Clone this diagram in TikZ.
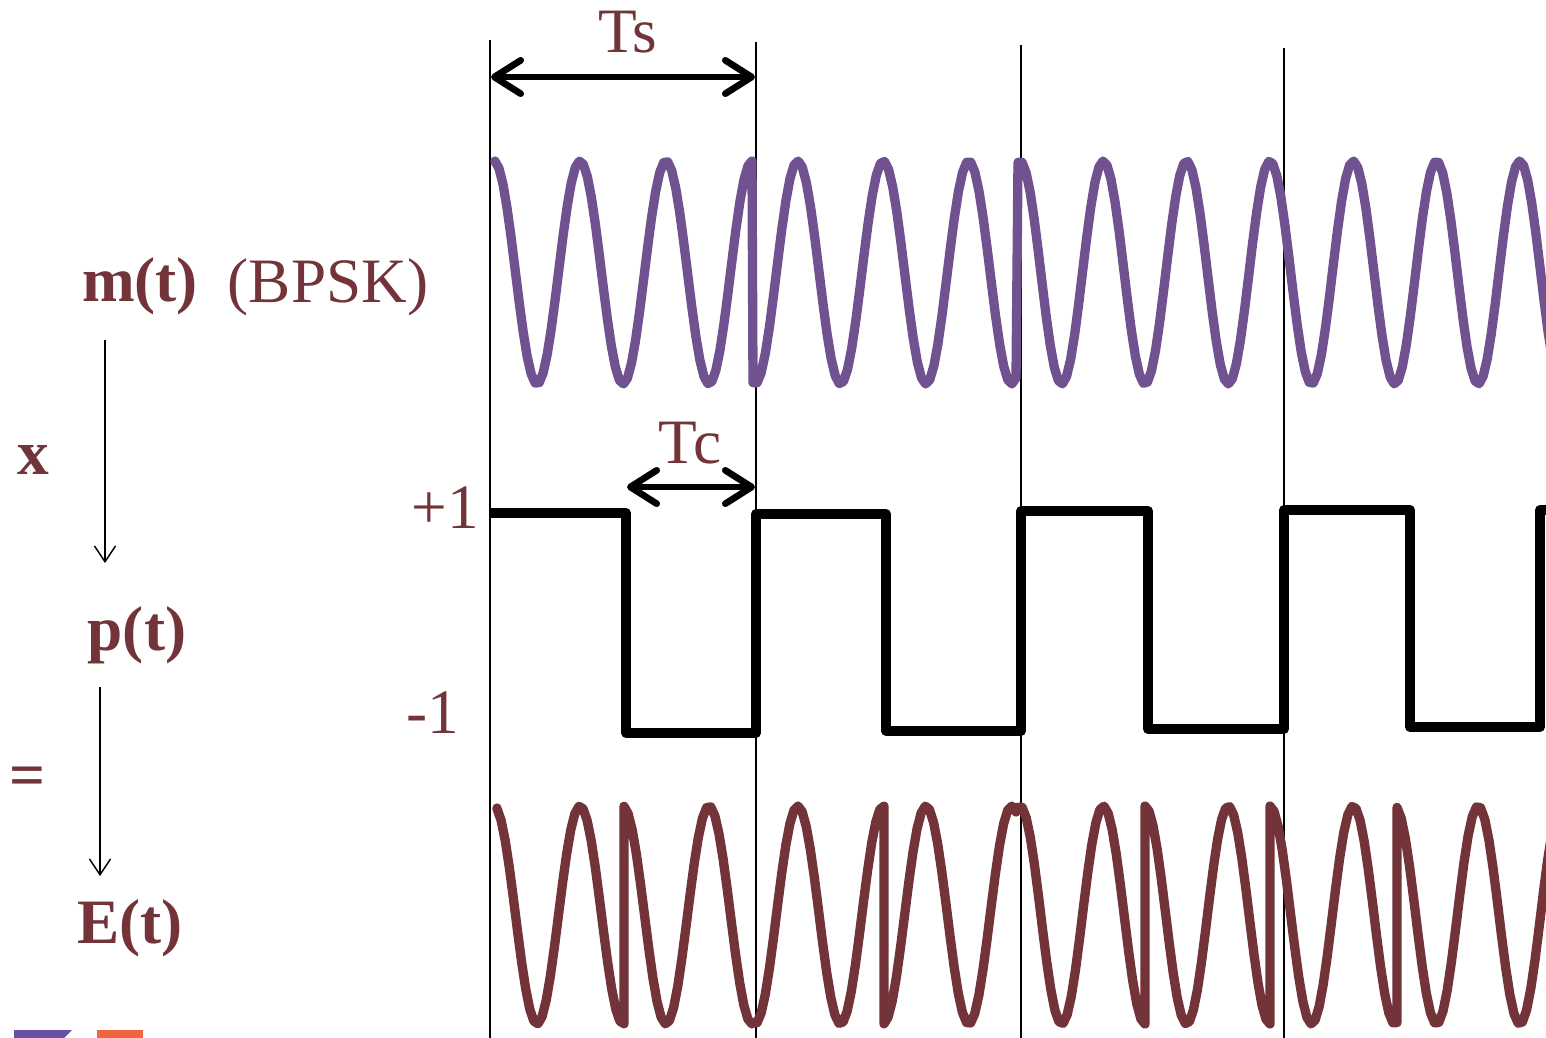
\documentclass[tikz,border=0pt]{standalone}
\usepackage{fontspec}
\setmainfont{Liberation Serif}
\usetikzlibrary{arrows.meta}
\definecolor{Brown}{RGB}{114,52,56}
\definecolor{Purple}{RGB}{112,82,145}
\definecolor{LogoPurple}{RGB}{104,80,164}
\definecolor{Orange}{RGB}{240,100,64}

\begin{document}
\begin{tikzpicture}[x=.02cm,y=-.02cm,
  lab/.style={text=Brown,font=\fontsize{36}{40}\selectfont,inner sep=0pt,anchor=base},
  blab/.style={lab,font=\fontsize{36}{40}\selectfont\bfseries},
  wave/.style={line width=5.3pt,line join=round,line cap=round},
  dim/.style={line width=3.8pt,{Straight Barb[length=15pt,width=19pt,round]}-{Straight Barb[length=15pt,width=19pt,round]}},
  flow/.style={line width=.8pt,-{Straight Barb[length=9pt,width=12pt]}}]
\useasboundingbox (0,0) rectangle (1546,1038);

\foreach \x/\t in {490/40,756/42,1021/45,1284/48}
  \draw[line width=1pt] (\x,\t) -- (\x,1038);

\begin{scope}
\clip (0,0) rectangle (1546,1038);
\draw[wave,Purple] (495,161) \foreach \a/\b/\c/\p/\s/\n in {495/752/494/86/1/65,753/1016/755/85.5/-1/65,1018/1560/1020/83.3/1/135}{
  -- plot[domain=\a:\b,samples=\n] (\x,{272.5-111.5*\s*cos(360/\p*(\x-\c))})};
\draw[wave,line width=5.6pt,line cap=butt] (491,513) -- (626,513) -- (626,733) -- (756,733) -- (756,514) -- (886,514)
  -- (886,731) -- (1021,731) -- (1021,511) -- (1148,511) -- (1148,729) -- (1284,729) -- (1284,510)
  -- (1410,510) -- (1410,727) -- (1540,727) -- (1540,510) -- (1560,510);
\draw[wave,Brown] (497,808) \foreach \a/\b/\c/\p/\s/\n in {497/624/494/86/1/32,624/752/494/86/-1/32,753/884/755/85.5/-1/33,884/1016/755/85.5/1/33,
  1018/1145/1020/83.3/1/32,1145/1270/1020/83.3/-1/32,1270/1397/1020/83.3/1/32,1397/1560/1020/83.3/-1/40}{
  -- plot[domain=\a:\b,samples=\n] (\x,{915-109*\s*cos(360/\p*(\x-\c))})};
\end{scope}

\coordinate (ts-l) at (491,77);
\coordinate (ts-r) at (755,77);
\coordinate (tc-l) at (627,487);
\coordinate (tc-r) at (755,487);
\draw[dim] (ts-l) -- (ts-r);
\draw[dim] (tc-l) -- (tc-r);
\node[lab] (tslab) at (628,52) {Ts};
\node[lab] (tclab) at (690,463) {Tc};

\node[lab] (plus) at (445,528) {+1};
\node[lab] (minus) at (433,733) {-1};

\node[blab] (msig) at (140,301) {m(t)};
\node[lab] (bpsk) at (328,302) {(BPSK)};
\node[blab] (times) at (33,474) {x};
\node[blab] (psig) at (137,650) {p(t)};
\node[blab] (equals) at (28,796) {=};
\node[blab] (esig) at (130,943) {E(t)};
\coordinate (mp-top) at (105,340);
\coordinate (mp-end) at (105,563);
\coordinate (pe-top) at (100,687);
\coordinate (pe-end) at (100,876);
\draw[flow] (mp-top) -- (mp-end);
\draw[flow] (pe-top) -- (pe-end);

\fill[LogoPurple] (14,1030) -- (72,1030) -- (64,1038) -- (14,1038) -- cycle;
\fill[Orange] (97,1030) rectangle (143,1038);
\end{tikzpicture}
\end{document}
